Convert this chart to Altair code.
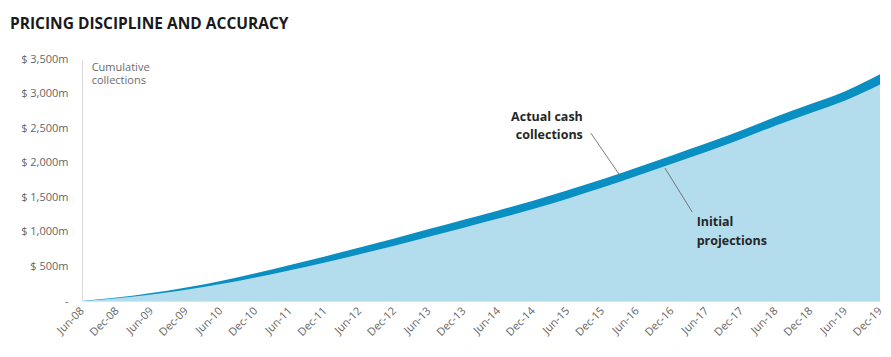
import altair as alt
import pandas as pd

# ---- data -------------------------------------------------------------
periods = ["Jun-08", "Dec-08", "Jun-09", "Dec-09", "Jun-10", "Dec-10",
           "Jun-11", "Dec-11", "Jun-12", "Dec-12", "Jun-13", "Dec-13",
           "Jun-14", "Dec-14", "Jun-15", "Dec-15", "Jun-16", "Dec-16",
           "Jun-17", "Dec-17", "Jun-18", "Dec-18", "Jun-19", "Dec-19"]
actual = [0, 50, 115, 195, 290, 400, 520, 645, 775, 905, 1040, 1175,
          1310, 1450, 1600, 1760, 1930, 2105, 2280, 2465, 2665, 2850, 3035, 3280]
projected = [0, 38, 93, 163, 245, 340, 445, 557, 677, 800, 930, 1060,
             1192, 1330, 1480, 1640, 1810, 1985, 2160, 2343, 2540, 2720, 2900, 3130]
y_ticks = [0, 500, 1000, 1500, 2000, 2500, 3000, 3500]

# annotation text (in data coordinates)
ann_text = ["Actual cash", "collections", "Initial", "projections"]
ann_date = ["2015-08-20", "2015-08-20", "2017-04-10", "2017-04-10"]
ann_val = [2660, 2400, 1140, 870]
ann_align = ["right", "right", "left", "left"]

note_text = ["Cumulative", "collections"]
note_date = ["2008-07-22", "2008-07-22"]
note_val = [3370, 3175]

lead_date = ["2015-10-01", "2016-10-25"]
lead_val = [2428, 1922]
lead_date2 = ["2016-03-01", "2017-03-18"]
lead_val2 = [1821, 1286]

title_text = "PRICING DISCIPLINE AND ACCURACY"

# ---- tables -------------------------------------------------------------
def to_date(p):
    m, y = p.split("-")
    return f"20{y}-{'06' if m == 'Jun' else '12'}-01"

dates = [to_date(p) for p in periods]
df = pd.DataFrame({"date": pd.to_datetime(dates), "actual": actual, "projected": projected})
ann = pd.DataFrame({"text": ann_text, "date": pd.to_datetime(ann_date), "val": ann_val, "align": ann_align})
notes = pd.DataFrame({"text": note_text, "date": pd.to_datetime(note_date), "val": note_val})
leads = pd.DataFrame({"d1": pd.to_datetime(lead_date), "v1": lead_val,
                      "d2": pd.to_datetime(lead_date2), "v2": lead_val2})

FONT = "Open Sans"
DARK = "#0a8fc2"
LIGHT = "#b3dcec"

tick_dates = [alt.DateTime(year=int("20" + p.split("-")[1]),
                           month=6 if p.startswith("Jun") else 12, date=1) for p in periods]

x_scale = alt.Scale(domain=[alt.DateTime(year=2008, month=6, date=1),
                            alt.DateTime(year=2019, month=12, date=1)])
y_scale = alt.Scale(domain=[0, 3500], nice=False)

x_axis = alt.Axis(values=tick_dates, format="%b-%y", labelAngle=-45,
                  labelAlign="right", labelBaseline="middle",
                  labelFont=FONT, labelFontSize=11, labelColor="#666666",
                  labelPadding=8, ticks=False, grid=False,
                  labelOverlap=False, labelBound=False, labelFlush=False,
                  domainColor="#e4e4e4", title=None)
y_axis = alt.Axis(values=y_ticks,
                  labelExpr="datum.value == 0 ? '-' : '$ ' + format(datum.value, ',') + 'm'",
                  labelFont=FONT, labelFontSize=11, labelColor="#666666",
                  labelPadding=14, ticks=False, grid=False,
                  labelOverlap=False, labelBound=False, labelFlush=False,
                  domainColor="#dcdcdc", title=None)


def X(field):
    return alt.X(field, type="temporal", scale=x_scale, axis=x_axis)


def Y(field):
    return alt.Y(field, type="quantitative", scale=y_scale, axis=y_axis)


base = alt.Chart(df)
area_actual = base.mark_area(color=DARK, interpolate="monotone").encode(x=X("date"), y=Y("actual"))
area_proj = base.mark_area(color=LIGHT, interpolate="monotone").encode(x=X("date"), y=Y("projected"))

ann_r = alt.Chart(ann[ann["align"] == "right"]).mark_text(
    font=FONT, fontSize=12.5, fontWeight="bold", color="#262626", align="right").encode(
    x=X("date"), y=Y("val"), text="text:N")
ann_l = alt.Chart(ann[ann["align"] == "left"]).mark_text(
    font=FONT, fontSize=12.5, fontWeight="bold", color="#262626", align="left").encode(
    x=X("date"), y=Y("val"), text="text:N")
note_layer = alt.Chart(notes).mark_text(font=FONT, fontSize=11, color="#6b6b6b",
                                        align="left").encode(
    x=X("date"), y=Y("val"), text="text:N")
lead_layer = alt.Chart(leads).mark_rule(color="#6b6b6b", strokeWidth=0.9).encode(
    x=X("d1"), y=Y("v1"), x2="d2:T", y2="v2:Q")
title_layer = alt.Chart(pd.DataFrame({"t": [title_text]})).mark_text(
    font=FONT, fontSize=15.5, fontWeight="bold", color="#1a1a1a", align="left",
    baseline="middle").encode(x=alt.value(-72), y=alt.value(-35), text="t:N")

chart = alt.layer(area_actual, area_proj, lead_layer, ann_r, ann_l, note_layer, title_layer).properties(
    width=798, height=242,
    autosize=alt.AutoSizeParams(type="none"),
    padding={"left": 82, "top": 59, "right": 11, "bottom": 56},
    background="white",
).configure_view(stroke=None)

chart.save("out.html", embed_options={"renderer": "svg", "actions": False})
